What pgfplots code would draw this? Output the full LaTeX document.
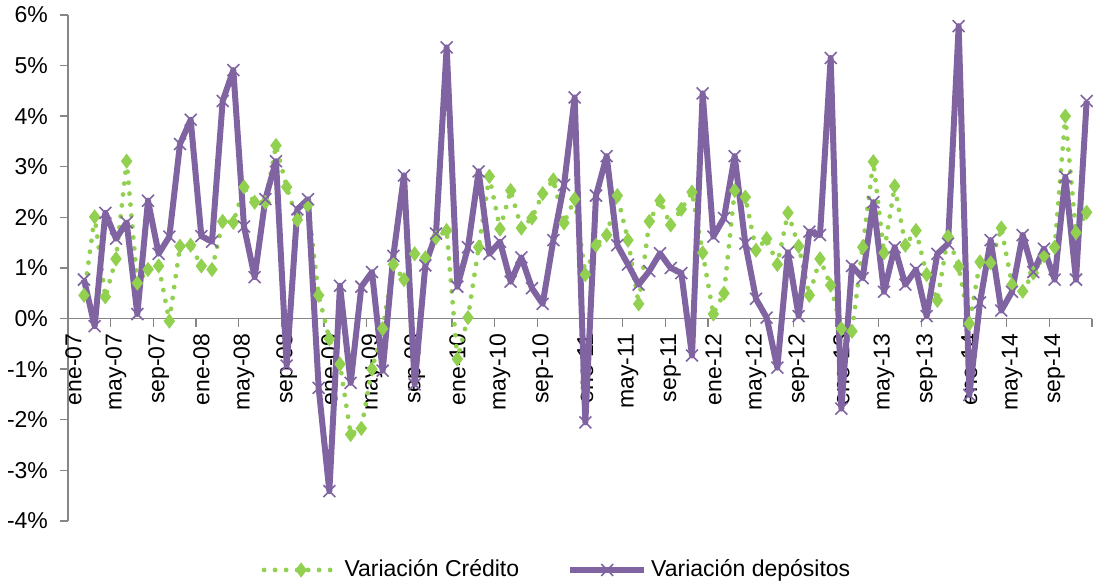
\documentclass[border=0pt]{standalone}
\usepackage{pgfplots}
\pgfplotsset{compat=1.18}
\usepackage{fontspec}
\setmainfont{Liberation Sans}
\definecolor{cred}{RGB}{146,208,80}
\definecolor{cdep}{RGB}{128,100,162}
\definecolor{axgray}{RGB}{134,134,134}
\begin{document}
\begin{tikzpicture}
\begin{axis}[
  at={(0,0)}, anchor=south west, scale only axis,
  width=512pt, height=253pt,
  xmin=-0.5, xmax=95.5, ymin=-4, ymax=6,
  clip=false,
  axis x line=middle, axis y line=left,
  axis line style={-, draw=axgray, line width=0.7pt},
  xtick={0,4,...,92},
  xticklabels={ene-07,may-07,sep-07,ene-08,may-08,sep-08,ene-09,may-09,sep-09,ene-10,may-10,sep-10,ene-11,may-11,sep-11,ene-12,may-12,sep-12,ene-13,may-13,sep-13,ene-14,may-14,sep-14},
  major x tick style={draw=none},
  minor xtick={3.5,7.5,...,95.5},
  minor x tick style={draw=axgray, line width=0.7pt},
  ytick={-4,-3,...,6},
  yticklabels={-4\%,-3\%,-2\%,-1\%,0\%,1\%,2\%,3\%,4\%,5\%,6\%},
  major y tick style={draw=axgray, line width=0.7pt},
  tick align=outside, major tick length=4pt, minor tick length=4pt,
  x tick label style={rotate=90, anchor=east, font=\fontsize{11.5}{13}\selectfont},
  y tick label style={font=\fontsize{11.5}{13}\selectfont, xshift=-2.5pt},
  legend columns=2,
  legend cell align=left,
  legend style={draw=none, fill=none, at={(0.4785,-0.0968)}, anchor=center,
    font=\fontsize{11.5}{13}\selectfont,
    /tikz/every even column/.append style={column sep=22pt}},
  legend image code/.code={\draw[mark repeat=2,mark phase=2] plot coordinates {(0pt,0pt) (18.5pt,0pt) (37pt,0pt)};},
]
\addplot[color=cred, line width=2.4pt, line cap=round, dash pattern=on 0pt off 5.5pt,
  mark=diamond*, mark size=3.4pt, mark options={solid, fill=cred, draw=cred, line width=0.5pt}]
coordinates {
(1,0.46)(2,2.01)(3,0.43)(4,1.18)(5,3.11)(6,0.70)(7,0.97)(8,1.04)(9,-0.05)(10,1.43)
(11,1.45)(12,1.04)(13,0.97)(14,1.92)(15,1.90)(16,2.60)(17,2.30)(18,2.30)(19,3.42)(20,2.60)
(21,1.95)(22,2.25)(23,0.46)(24,-0.40)(25,-0.90)(26,-2.29)(27,-2.17)(28,-1.00)(29,-0.20)(30,1.07)
(31,0.77)(32,1.28)(33,1.20)(34,1.60)(35,1.74)(36,-0.80)(37,0.02)(38,1.41)(39,2.81)(40,1.77)
(41,2.53)(42,1.79)(43,1.99)(44,2.47)(45,2.74)(46,1.89)(47,2.36)(48,0.87)(49,1.45)(50,1.65)
(51,2.43)(52,1.55)(53,0.29)(54,1.92)(55,2.33)(56,1.85)(57,2.16)(58,2.50)(59,1.30)(60,0.09)
(61,0.50)(62,2.53)(63,2.40)(64,1.35)(65,1.58)(66,1.07)(67,2.09)(68,1.43)(69,0.46)(70,1.18)
(71,0.66)(72,-0.20)(73,-0.25)(74,1.41)(75,3.10)(76,1.30)(77,2.62)(78,1.45)(79,1.74)(80,0.87)
(81,0.36)(82,1.62)(83,1.03)(84,-0.10)(85,1.12)(86,1.10)(87,1.79)(88,0.67)(89,0.54)(90,0.90)
(91,1.24)(92,1.41)(93,4.00)(94,1.70)(95,2.10)
};
\addlegendentry{Variación Crédito}
\addplot[color=cdep, line width=3pt, line join=round,
  mark=x, mark size=4.2pt, mark options={solid, line width=0.8pt}]
coordinates {
(1,0.77)(2,-0.15)(3,2.09)(4,1.58)(5,1.90)(6,0.09)(7,2.33)(8,1.28)(9,1.62)(10,3.45)
(11,3.93)(12,1.63)(13,1.52)(14,4.30)(15,4.91)(16,1.82)(17,0.82)(18,2.36)(19,3.11)(20,-0.93)
(21,2.16)(22,2.36)(23,-1.37)(24,-3.41)(25,0.65)(26,-1.27)(27,0.63)(28,0.92)(29,-1.03)(30,1.24)
(31,2.83)(32,-1.30)(33,1.05)(34,1.68)(35,5.36)(36,0.63)(37,1.41)(38,2.91)(39,1.28)(40,1.52)
(41,0.73)(42,1.21)(43,0.60)(44,0.29)(45,1.55)(46,2.64)(47,4.37)(48,-2.05)(49,2.43)(50,3.21)
(51,1.45)(52,1.07)(53,0.67)(54,0.94)(55,1.29)(56,1.00)(57,0.90)(58,-0.73)(59,4.45)(60,1.62)
(61,1.99)(62,3.21)(63,1.48)(64,0.39)(65,0.02)(66,-0.97)(67,1.31)(68,0.05)(69,1.72)(70,1.65)
(71,5.15)(72,-1.78)(73,1.04)(74,0.80)(75,2.30)(76,0.53)(77,1.41)(78,0.67)(79,0.97)(80,0.05)
(81,1.28)(82,1.48)(83,5.78)(84,-1.51)(85,0.32)(86,1.55)(87,0.16)(88,0.53)(89,1.65)(90,0.92)
(91,1.38)(92,0.77)(93,2.80)(94,0.77)(95,4.30)
};
\addlegendentry{Variación depósitos}
\end{axis}
\pgfresetboundingbox
\path (-34pt,-33.5pt) rectangle (514.5pt,260.5pt);
\end{tikzpicture}
\end{document}
